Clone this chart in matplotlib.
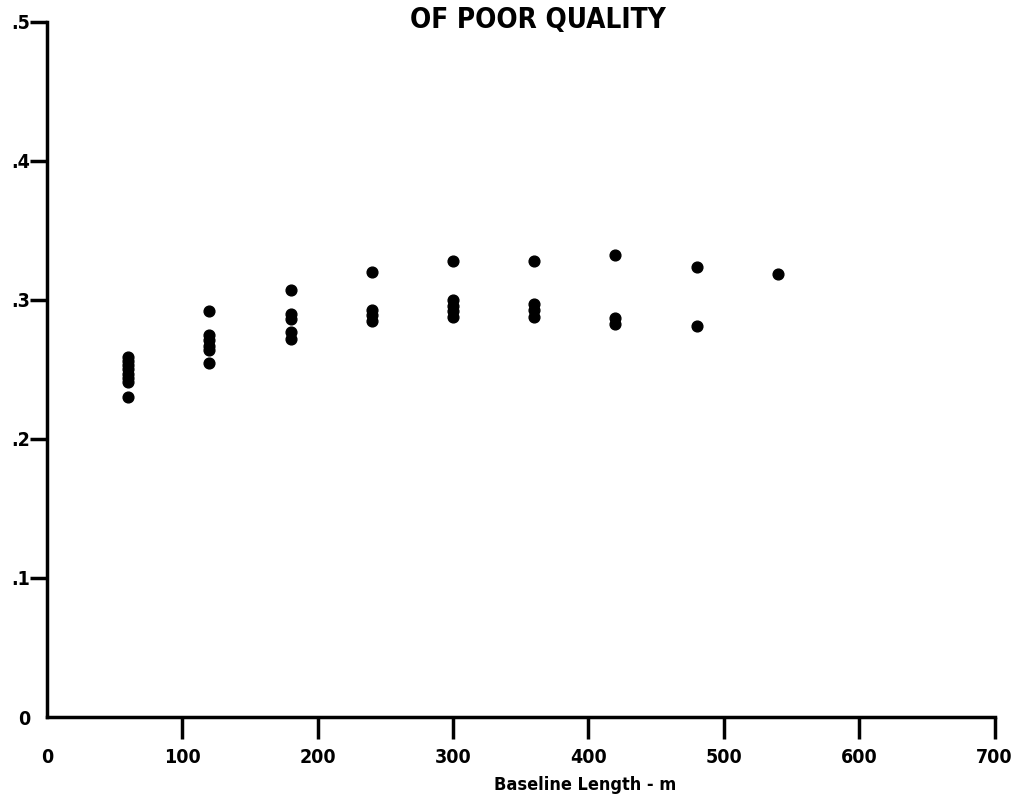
import matplotlib
matplotlib.use("Agg")
import matplotlib.pyplot as plt

baseline = [60] * 8 + [120] * 6 + [180] * 5 + [240] * 4 + [300] * 5 + [360] * 4 + [420] * 3 + [480] * 2 + [540]
values = [0.259, 0.256, 0.253, 0.250, 0.247, 0.244, 0.241, 0.230,
          0.292, 0.275, 0.271, 0.267, 0.264, 0.255,
          0.307, 0.290, 0.286, 0.277, 0.272,
          0.320, 0.293, 0.289, 0.285,
          0.328, 0.300, 0.296, 0.292, 0.288,
          0.328, 0.297, 0.293, 0.288,
          0.332, 0.287, 0.283,
          0.324, 0.281,
          0.319]

xticks = [0, 100, 200, 300, 400, 500, 600, 700]
yticks = [0, 0.1, 0.2, 0.3, 0.4, 0.5]
ytick_labels = ["0", ".1", ".2", ".3", ".4", ".5"]

FONT = ["DejaVu Sans"]
tick_font = dict(family=FONT, fontweight="bold", fontstretch="condensed", fontsize=14)

fig = plt.figure(figsize=(10.18, 7.99), dpi=100)
ax = fig.add_axes([0.046, 0.1026, 0.931, 0.87])

ax.scatter(baseline, values, s=60, color="black", zorder=3)

ax.set_xlim(0, 700)
ax.set_ylim(0, 0.5)
ax.set_xticks(xticks)
ax.set_xticklabels([str(t) for t in xticks], **tick_font)
ax.set_yticks(yticks)
ax.set_yticklabels(ytick_labels, **tick_font)

for s in ["top", "right"]:
    ax.spines[s].set_visible(False)
for s in ["left", "bottom"]:
    ax.spines[s].set_linewidth(2.5)
ax.tick_params(axis="x", length=16, width=2.5, pad=6)
ax.tick_params(axis="y", length=12, width=2.5, pad=0)
# the 0 corner tick is not drawn on either axis
ax.xaxis.get_major_ticks()[0].tick1line.set_visible(False)
ax.yaxis.get_major_ticks()[0].tick1line.set_visible(False)

ax.set_xlabel("Baseline Length - m", family=FONT, fontweight="bold",
              fontstretch="condensed", fontsize=13)
ax.xaxis.set_label_coords(0.5675, -0.085)

fig.text(0.528, 0.993, "OF POOR QUALITY", family=FONT, fontweight="bold",
         fontstretch="condensed", fontsize=20, ha="center", va="top")

fig.savefig("out.png", dpi=100)
